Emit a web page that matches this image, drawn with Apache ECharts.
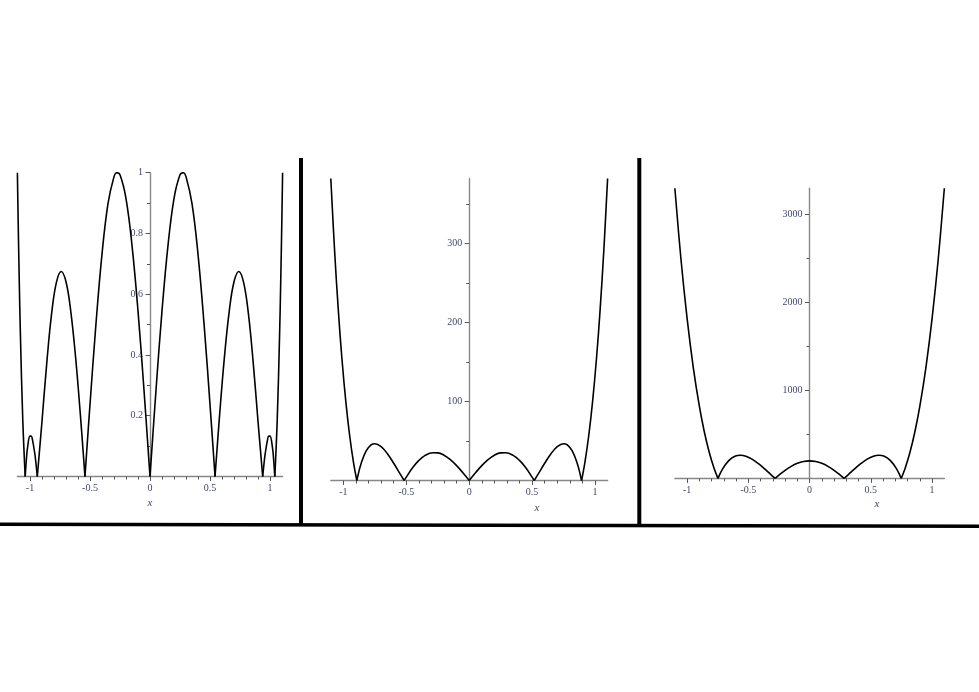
<!DOCTYPE html>
<html><head><meta charset="utf-8">
<script src="https://cdn.jsdelivr.net/npm/echarts@6/dist/echarts.min.js"></script>
<style>html,body{margin:0;padding:0;background:#fff}#c{width:979px;height:692px}</style>
</head><body><div id="c"></div>
<script>
// ---- Panel 1 ----
const x1 = [-1.105,-1.1,-1.09,-1.08,-1.06,-1.04,-1.03,-1.02,-1.0,-0.99,-0.98,-0.96,-0.95,-0.939,-0.9,-0.86,-0.82,-0.78,-0.74,-0.7,-0.66,-0.62,-0.58,-0.542,-0.5,-0.45,-0.4,-0.35,-0.3,-0.278,-0.25,-0.2,-0.15,-0.1,-0.05,
  0,
  0.05,0.1,0.15,0.2,0.25,0.278,0.3,0.35,0.4,0.45,0.5,0.542,0.58,0.62,0.66,0.7,0.74,0.78,0.82,0.86,0.9,0.939,0.95,0.96,0.98,0.99,1.0,1.02,1.03,1.04,1.06,1.08,1.09,1.1,1.105];
const y1 = [1.0,0.874,0.654,0.468,0.184,0,0.057,0.097,0.133,0.133,0.122,0.075,0.042,0,0.182,0.375,0.536,0.639,0.675,0.641,0.543,0.392,0.202,0,0.237,0.504,0.732,0.898,0.987,1.0,0.993,0.915,0.761,0.545,0.284,
  0,
  0.284,0.545,0.761,0.915,0.993,1.0,0.987,0.898,0.732,0.504,0.237,0,0.202,0.392,0.543,0.641,0.675,0.639,0.536,0.375,0.182,0,0.042,0.075,0.122,0.133,0.133,0.097,0.057,0,0.184,0.468,0.654,0.874,1.0];

// ---- Panel 2 ----
const x2 = [-1.1,-1.07,-1.04,-1.01,-0.98,-0.95,-0.92,-0.893,-0.88,-0.86,-0.82,-0.78,-0.75,-0.7,-0.65,-0.6,-0.55,-0.517,-0.5,-0.45,-0.4,-0.35,-0.29,-0.25,-0.2,-0.15,-0.1,-0.05,
  0,
  0.05,0.1,0.15,0.2,0.25,0.29,0.35,0.4,0.45,0.5,0.517,0.55,0.6,0.65,0.7,0.75,0.78,0.82,0.86,0.88,0.893,0.92,0.95,0.98,1.01,1.04,1.07,1.1];
const y2 = [382.1,291.4,214.9,151.2,98.9,56.6,23.3,0,9.2,21.0,37.1,45.0,46.5,42.9,33.9,21.8,8.6,0,4.3,16.1,25.4,31.8,35.2,35.0,32.0,26.4,18.8,9.8,
  0,
  9.8,18.8,26.4,32.0,35.0,35.2,31.8,25.4,16.1,4.3,0,8.6,21.8,33.9,42.9,46.5,45.0,37.1,21.0,9.2,0,23.3,56.6,98.9,151.2,214.9,291.4,382.1];

// ---- Panel 3 ----
const x3 = [-1.1,-1.05,-1.0,-0.95,-0.9,-0.86,-0.82,-0.78,-0.748,-0.71,-0.66,-0.61,-0.565,-0.52,-0.47,-0.42,-0.37,-0.32,-0.282,-0.25,-0.2,-0.15,-0.1,-0.05,
  0,
  0.05,0.1,0.15,0.2,0.25,0.282,0.32,0.37,0.42,0.47,0.52,0.565,0.61,0.66,0.71,0.748,0.78,0.82,0.86,0.9,0.95,1.0,1.05,1.1];
const y3 = [3295,2489,1817,1265,820,533,300,116,0,108,202,251,263,252,219,170,111,48,0,38,92,137,171,192,
  199,
  192,171,137,92,38,0,48,111,170,219,252,263,251,202,108,0,116,300,533,820,1265,1817,2489,3295];

// ---- Axis ranges and ticks ----
const xRange1 = [-1.105, 1.105];
const xRange2 = [-1.1, 1.1];
const xRange3 = [-1.1, 1.1];
const yRange1 = [0, 1];
const yRange2 = [0, 382.1];
const yRange3 = [0, 3295];
const xMajor = [-1, -0.5, 0, 0.5, 1];
const xMinor = [-0.9,-0.8,-0.7,-0.6,-0.4,-0.3,-0.2,-0.1,0.1,0.2,0.3,0.4,0.6,0.7,0.8,0.9];
const yMajor1 = [0.2, 0.4, 0.6, 0.8, 1];
const yMinor1 = [0.1, 0.3, 0.5, 0.7, 0.9];
const yMajor2 = [100, 200, 300];
const yMinor2 = [50, 150, 250, 350];
const yMajor3 = [1000, 2000, 3000];
const yMinor3 = [500, 1500, 2500];

const panels = [
  {xs:x1, ys:y1, xr:xRange1, yr:yRange1, ym:yMajor1, yn:yMinor1, grid:{left:17.4, top:172.7, width:265.2, height:303.8}, xl:[150,503]},
  {xs:x2, ys:y2, xr:xRange2, yr:yRange2, ym:yMajor2, yn:yMinor2, grid:{left:330.8, top:178.5, width:276.8, height:302}, xl:[537,508]},
  {xs:x3, ys:y3, xr:xRange3, yr:yRange3, ym:yMajor3, yn:yMinor3, grid:{left:674.85, top:188.3, width:269.5, height:290.1}, xl:[877,504]}
];

const labelColor = '#3e4a6e';
const axisColor = '#888888';
const tickColor = '#555555';
const font = 'Liberation Serif';

const grids = [], xAxes = [], yAxes = [], series = [];

function arches(xs, ys) {
  const out = []; let cur = [];
  for (let i = 0; i < xs.length; i++) {
    const p = [xs[i], ys[i]];
    cur.push(p);
    if (ys[i] === 0 && cur.length > 1) { out.push(cur); cur = [p]; }
  }
  if (cur.length > 1) out.push(cur);
  return out;
}

panels.forEach((pn, i) => {
  grids.push(Object.assign({containLabel:false, show:false}, pn.grid));
  const xi = 2*i, yi = 2*i;
  // place the y axis at x = 0 of the x range
  const yOff = -pn.grid.width * (0 - pn.xr[0]) / (pn.xr[1] - pn.xr[0]);
  xAxes.push({
    type:'value', gridIndex:i, min:pn.xr[0], max:pn.xr[1], position:'bottom',
    axisLine:{show:true, onZero:false, lineStyle:{color:axisColor, width:1.4}},
    axisTick:{show:true, customValues:xMajor, length:4.5, lineStyle:{color:tickColor, width:1}},
    axisLabel:{show:true, customValues:xMajor, formatter:v=>String(v), margin:7, fontFamily:font, fontSize:10, color:labelColor},
    splitLine:{show:false}
  });
  xAxes.push({
    type:'value', gridIndex:i, min:pn.xr[0], max:pn.xr[1], position:'bottom',
    axisLine:{show:false, onZero:false},
    axisTick:{show:true, customValues:xMinor, length:3, lineStyle:{color:tickColor, width:1}},
    axisLabel:{show:false}, splitLine:{show:false}
  });
  yAxes.push({
    type:'value', gridIndex:i, min:pn.yr[0], max:pn.yr[1], position:'left', offset:yOff,
    axisLine:{show:true, onZero:false, lineStyle:{color:axisColor, width:1.4}},
    axisTick:{show:true, customValues:pn.ym, length:4.5, lineStyle:{color:tickColor, width:1}},
    axisLabel:{show:true, customValues:pn.ym, formatter:v=>String(v), margin:7, fontFamily:font, fontSize:10, color:labelColor},
    splitLine:{show:false}
  });
  yAxes.push({
    type:'value', gridIndex:i, min:pn.yr[0], max:pn.yr[1], position:'left', offset:yOff,
    axisLine:{show:false, onZero:false},
    axisTick:{show:true, customValues:pn.yn, length:3, lineStyle:{color:tickColor, width:1}},
    axisLabel:{show:false}, splitLine:{show:false}
  });
  arches(pn.xs, pn.ys).forEach(a => {
    series.push({
      type:'line', xAxisIndex:xi, yAxisIndex:yi, data:a, smooth:0.4,
      showSymbol:false, symbol:'none', silent:true, animation:false, z:5,
      lineStyle:{color:'#000', width:1.6}
    });
  });
});

const graphic = [
  {type:'line', shape:{x1:301, y1:158, x2:301, y2:525}, style:{stroke:'#000', lineWidth:4}, z:10},
  {type:'line', shape:{x1:639.3, y1:158, x2:639.3, y2:525.5}, style:{stroke:'#000', lineWidth:4}, z:10},
  {type:'line', shape:{x1:0, y1:524.2, x2:979, y2:526.3}, style:{stroke:'#000', lineWidth:3.6}, z:10}
];
panels.forEach(pn => {
  graphic.push({type:'text', x:pn.xl[0], y:pn.xl[1], z:10,
    style:{text:'x', fontFamily:font, fontStyle:'italic', fontSize:11, fill:labelColor, align:'center', verticalAlign:'middle'}});
});

const chart = echarts.init(document.getElementById('c'), null, {renderer:'canvas'});
chart.setOption({
  animation:false,
  backgroundColor:'#ffffff',
  grid:grids, xAxis:xAxes, yAxis:yAxes, series:series, graphic:graphic
});
</script></body></html>
